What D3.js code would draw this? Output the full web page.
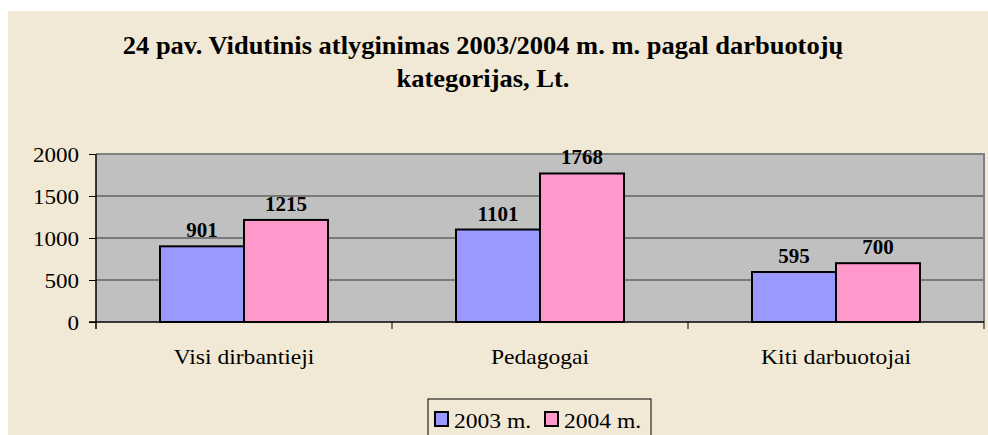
<!DOCTYPE html>
<html>
<head>
<meta charset="utf-8">
<script src="https://cdn.jsdelivr.net/npm/d3@7"></script>
<style>
  body { margin: 0; background: #fff; }
  text { font-family: "Liberation Serif", "Times New Roman", serif; }
</style>
</head>
<body>
<svg id="chart"></svg>
<script>
const categories = ["Visi dirbantieji", "Pedagogai", "Kiti darbuotojai"]
const seriesNames = ["2003 m.", "2004 m."]
const values2003 = [901, 1101, 595]
const values2004 = [1215, 1768, 700]
const yTicks = [0, 500, 1000, 1500, 2000]
const titleLines = ["24 pav. Vidutinis atlyginimas 2003/2004 m. m. pagal darbuotojų", "kategorijas, Lt."]
const colors = ["#9999ff", "#ff99cc"]

const width = 988
const height = 435
const plot = { left: 96, top: 154, right: 984, bottom: 322 }
const sx = 1.15 // the source picture is stretched sideways

const svg = d3.select("#chart")
    .attr("width", width)
    .attr("height", height)

// background panel
svg.append("rect")
    .attr("x", 8).attr("y", 11)
    .attr("width", width - 8).attr("height", height)
    .attr("fill", "#f1e9d5")

// helper for stretched text
const stretched = (sel, x, y, s = sx) => sel.attr("transform", `translate(${x},${y}) scale(${s},1)`)

// title
svg.append("g").selectAll("text")
    .data(titleLines)
    .join("text")
    .attr("text-anchor", "middle")
    .style("font-size", "25px")
    .style("font-weight", "bold")
    .each(function(d, i) { stretched(d3.select(this), 483, 54 + i * 33, 1.06) })
    .text(d => d)

const x0 = d3.scaleBand()
    .domain(categories)
    .range([plot.left, plot.right])
    .paddingInner(0.4324)
    .paddingOuter(0.2162)

const x1 = d3.scaleBand()
    .domain(seriesNames)
    .range([0, x0.bandwidth()])

const y = d3.scaleLinear()
    .domain([0, 2000])
    .range([plot.bottom, plot.top])

// plot area
svg.append("rect")
    .attr("x", plot.left).attr("y", plot.top)
    .attr("width", plot.right - plot.left).attr("height", plot.bottom - plot.top)
    .attr("fill", "#c0c0c0")

// gridlines
svg.append("g").selectAll("line")
    .data(yTicks.filter(d => d > 0 && d < 2000))
    .join("line")
    .attr("x1", plot.left).attr("x2", plot.right)
    .attr("y1", d => y(d)).attr("y2", d => y(d))
    .attr("stroke", "#333")
    .attr("stroke-width", 1)

// top and right border of plot
svg.append("path")
    .attr("d", `M${plot.left},${y(2000)}H${plot.right}V${plot.bottom}`)
    .attr("fill", "none")
    .attr("stroke", "#808080")
    .attr("stroke-width", 2)

// bars
const rows = categories.map((c, i) => ({ cat: c, vals: [values2003[i], values2004[i]] }))
const groups = svg.append("g").selectAll("g")
    .data(rows)
    .join("g")
    .attr("transform", d => `translate(${x0(d.cat)},0)`)

groups.selectAll("rect")
    .data(d => d.vals.map((v, j) => ({ s: seriesNames[j], v: v, j: j })))
    .join("rect")
    .attr("x", d => x1(d.s))
    .attr("y", d => y(d.v))
    .attr("width", x1.bandwidth())
    .attr("height", d => y(0) - y(d.v))
    .attr("fill", d => colors[d.j])
    .attr("stroke", "#000")
    .attr("stroke-width", 2)

groups.selectAll("text")
    .data(d => d.vals.map((v, j) => ({ s: seriesNames[j], v: v })))
    .join("text")
    .attr("text-anchor", "middle")
    .style("font-size", "21px")
    .style("font-weight", "bold")
    .each(function(d) { stretched(d3.select(this), x1(d.s) + x1.bandwidth() / 2, y(d.v) - 9, 1.0) })
    .text(d => d.v)

// y axis
const yAxis = svg.append("g")
    .attr("transform", `translate(${plot.left},0)`)
    .call(d3.axisLeft(y).tickValues(yTicks).tickSize(7).tickPadding(9).tickFormat(d3.format("d")))
yAxis.select(".domain").attr("stroke", "#000").attr("stroke-width", 1.5).attr("d", `M0,${plot.top}V${plot.bottom + 7}`)
yAxis.selectAll(".tick line").attr("stroke", "#000")
yAxis.selectAll(".tick text")
    .attr("x", null).attr("dy", null)
    .style("font-size", "20px")
    .attr("fill", "#000")
    .attr("transform", `translate(-17,7) scale(${sx},1)`)

// x axis
svg.append("line")
    .attr("x1", plot.left - 7).attr("x2", plot.right)
    .attr("y1", plot.bottom).attr("y2", plot.bottom)
    .attr("stroke", "#000").attr("stroke-width", 1.5)

const boundaries = categories.map(c => x0(c) - x0.step() * x0.paddingInner() / 2).concat([plot.right])
svg.append("g").selectAll("line")
    .data(boundaries.slice(1))
    .join("line")
    .attr("x1", d => d).attr("x2", d => d)
    .attr("y1", plot.bottom).attr("y2", plot.bottom + 7)
    .attr("stroke", "#000")

svg.append("g").selectAll("text")
    .data(categories)
    .join("text")
    .attr("text-anchor", "middle")
    .style("font-size", "20.5px")
    .each(function(d) { stretched(d3.select(this), x0(d) + x0.bandwidth() / 2, 364) })
    .text(d => d)

// legend
const legend = svg.append("g").attr("transform", "translate(428,399)")
legend.append("rect")
    .attr("width", 223).attr("height", 60)
    .attr("fill", "none")
    .attr("stroke", "#000")
const items = legend.selectAll(".item")
    .data(seriesNames)
    .join("g")
    .attr("class", "item")
    .attr("transform", (d, i) => `translate(${7 + i * 110},0)`)
items.append("rect")
    .attr("y", 13).attr("width", 13).attr("height", 14)
    .attr("fill", (d, i) => colors[i])
    .attr("stroke", "#000").attr("stroke-width", 2)
items.append("text")
    .style("font-size", "20.5px")
    .each(function() { stretched(d3.select(this), 19, 29) })
    .text(d => d)
</script>
</body>
</html>
